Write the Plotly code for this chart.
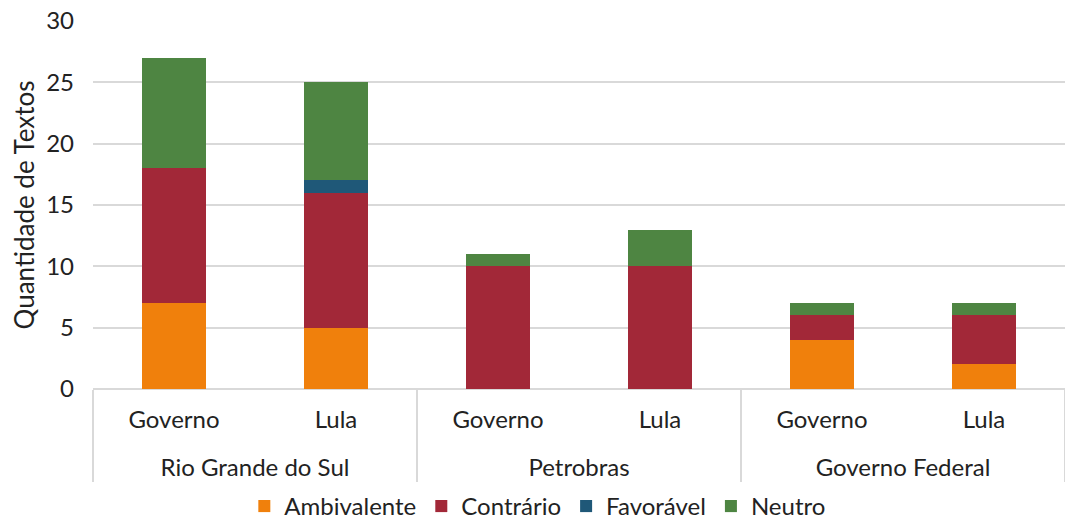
import plotly.graph_objects as go

groups = ["Rio Grande do Sul", "Rio Grande do Sul", "Petrobras", "Petrobras", "Governo Federal", "Governo Federal"]
subs = ["Governo", "Lula", "Governo", "Lula", "Governo", "Lula"]

ambivalente = [7, 5, 0, 0, 4, 2]
contrario = [11, 11, 10, 10, 2, 4]
favoravel = [0, 1, 0, 0, 0, 0]
neutro = [9, 8, 1, 3, 1, 1]

series = [
    ("Ambivalente", ambivalente, "#F0800C"),
    ("Contrário", contrario, "#A22838"),
    ("Favorável", favoravel, "#1F5878"),
    ("Neutro", neutro, "#4E8542"),
]

FONT = "Lato"
sub_labels = [s + "<br> " for s in subs]

fig = go.Figure()
for name, vals, color in series:
    fig.add_trace(go.Bar(
        x=[groups, sub_labels], y=vals, name=name,
        marker=dict(color=color, line=dict(width=0)),
    ))

fig.update_layout(
    barmode="stack",
    bargap=0.6,
    width=1065, height=529,
    margin=dict(l=93, r=0, t=21, b=140),
    plot_bgcolor="white", paper_bgcolor="white",
    font=dict(family=FONT, size=24, color="#222222"),
    showlegend=True,
    legend=dict(
        orientation="h", xref="container", yref="container",
        x=0.505, xanchor="center", y=0.0, yanchor="bottom",
        font=dict(size=24, color="#222222"),
        traceorder="normal", itemwidth=30,
    ),
)
fig.update_yaxes(
    range=[0, 30], dtick=5,
    showgrid=True, gridcolor="#D9D9D9", gridwidth=1.5,
    zeroline=True, zerolinecolor="#D9D9D9", zerolinewidth=1.5,
    showline=False, ticks="", ticklabelstandoff=18,
    title=dict(text="Quantidade de Textos", font=dict(size=26), standoff=4),
)
fig.update_xaxes(
    showline=False, ticks="", showdividers=True,
    dividercolor="#D9D9D9", dividerwidth=1.5,
    tickfont=dict(size=24), ticklabelstandoff=14,
)

fig.write_html("out.html")
